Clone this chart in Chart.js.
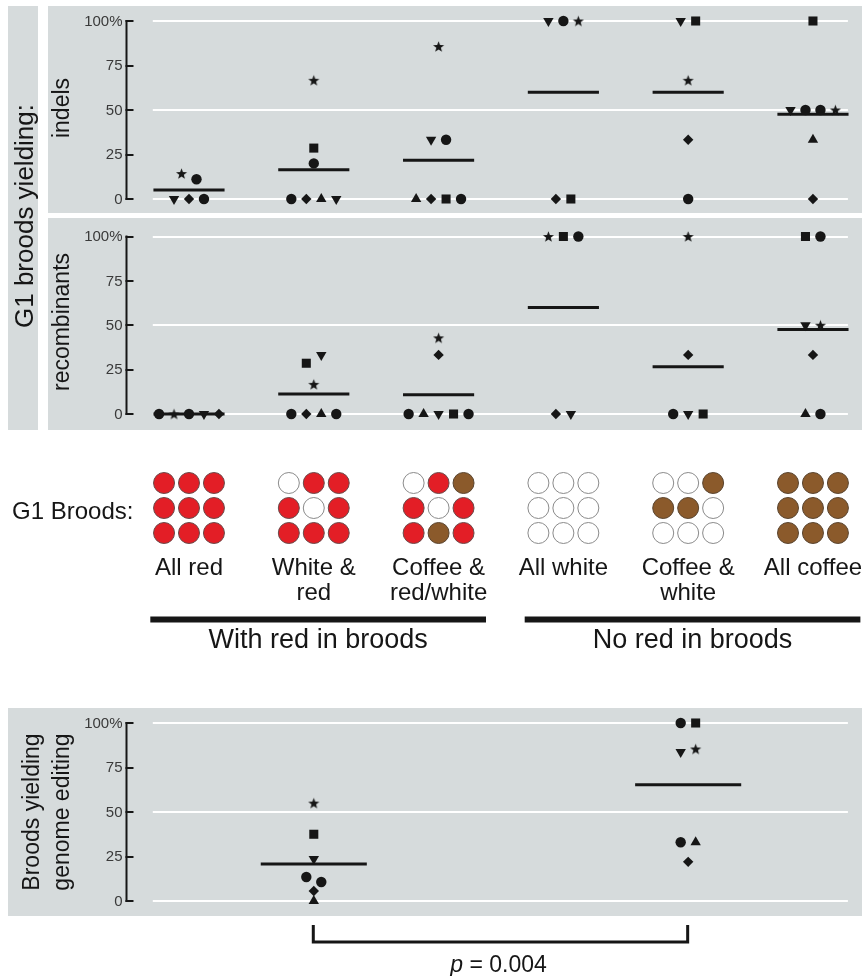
<!DOCTYPE html>
<html><head><meta charset="utf-8"><title>G1 broods yielding genome editing</title>
<script src="https://cdn.jsdelivr.net/npm/chart.js@4.4.1/dist/chart.umd.min.js"></script>
<style>
html,body{margin:0;padding:0;background:#fff;}
body{width:862px;height:976px;position:relative;overflow:hidden;font-family:'Liberation Sans',Arial,Helvetica,sans-serif;}
canvas{position:absolute;left:0;}
#strip{position:absolute;left:8px;top:6px;width:30px;height:424px;background:#d6dbdc;}
#stripLabel{position:absolute;left:24px;top:216px;transform:translate(-50%,-50%) rotate(-90deg);white-space:nowrap;font-size:26px;line-height:28px;color:#161616;}
</style></head><body>
<canvas id="cInd" width="862" height="215" style="top:0"></canvas>
<canvas id="cRec" width="862" height="215" style="top:215px"></canvas>
<canvas id="cGrid" width="862" height="250" style="top:430px"></canvas>
<canvas id="cEdit" width="862" height="296" style="top:680px"></canvas>
<div id="strip"></div><div id="stripLabel">G1 broods yielding:</div>
<script>
// ---------------- DATA ----------------
const categories = ["All red", "White & red", "Coffee & red/white", "All white", "Coffee & white", "All coffee"];
const categoryLabelLines = [["All red"], ["White &", "red"], ["Coffee &", "red/white"], ["All white"], ["Coffee &", "white"], ["All coffee"]];
const groupNames = ["With red in broods", "No red in broods"];
const groupSpans = [[0, 2], [3, 5]];

const yTicks = [0, 25, 50, 75, 100];
const yTickLabels = ["0", "25", "50", "75", "100%"];
const gridValues = [0, 50, 100];

// indels (% of G1 broods), marker symbol per point
const indelMarkers = [
  ["star", "circle", "triDown", "diamond", "circle"],
  ["star", "square", "circle", "circle", "diamond", "triUp", "triDown"],
  ["star", "triDown", "circle", "triUp", "diamond", "square", "circle"],
  ["triDown", "circle", "star", "diamond", "square"],
  ["triDown", "square", "star", "diamond", "circle"],
  ["square", "triDown", "circle", "circle", "star", "triUp", "diamond"]
];
const indelValues = [
  [14.3, 11.1, 0, 0, 0],
  [66.7, 28.6, 20, 0, 0, 0, 0],
  [85.7, 33.3, 33.3, 0, 0, 0, 0],
  [100, 100, 100, 0, 0],
  [100, 100, 66.7, 33.3, 0],
  [100, 50, 50, 50, 50, 33.3, 0]
];

// recombinants
const recombMarkers = [
  ["circle", "star", "circle", "triDown", "diamond"],
  ["square", "triDown", "star", "circle", "diamond", "triUp", "circle"],
  ["star", "diamond", "circle", "triUp", "triDown", "square", "circle"],
  ["star", "square", "circle", "diamond", "triDown"],
  ["star", "diamond", "circle", "triDown", "square"],
  ["square", "circle", "triDown", "star", "diamond", "triUp", "circle"]
];
const recombValues = [
  [0, 0, 0, 0, 0],
  [28.6, 33.3, 16.7, 0, 0, 0, 0],
  [42.9, 33.3, 0, 0, 0, 0, 0],
  [100, 100, 100, 0, 0],
  [100, 33.3, 0, 0, 0],
  [100, 100, 50, 50, 33.3, 0, 0]
];

// broods yielding genome editing
const editGroups = ["With red in broods", "No red in broods"];
const editMarkers = [
  ["star", "square", "triDown", "circle", "circle", "diamond", "triUp"],
  ["circle", "square", "triDown", "star", "circle", "triUp", "diamond"]
];
const editValues = [
  [55, 37.5, 23.6, 13.5, 10.7, 5.6, 0],
  [100, 100, 83.7, 85.4, 33, 33, 22]
];
const pValueText = "0.004";

// G1 brood eye colour composition (R = red, W = white, C = coffee), rows top to bottom
const broodGrids = [
  ["RRR", "RRR", "RRR"],
  ["WRR", "RWR", "RRR"],
  ["WRC", "RWR", "RCR"],
  ["WWW", "WWW", "WWW"],
  ["WWC", "CCW", "WWW"],
  ["CCC", "CCC", "CCC"]
];

// ---------------- STYLE / LAYOUT ----------------
const FONT = "'Liberation Sans', Arial, Helvetica, sans-serif";
const INK = '#161616';
const PANEL_GRAY = '#d6dbdc';
const X_MIN = -0.5, X_MAX = 5.3;
const PAD_L = 126.6, PAD_R = 862 - 850.4;
const JITTER = 0.12, GROUP_GAP = 5;
const EDIT_SLOTS = [1, 4];
const EYE_COLORS = { R: '#e31e26', W: '#ffffff', C: '#8b5a2b' };
const EYE_BORDERS = { R: '#6a4a4a', W: '#8a8a8a', C: '#5a4530' };

Chart.defaults.font.family = FONT;

function makeStar() {
  const c = document.createElement('canvas');
  c.width = 13; c.height = 13;
  const g = c.getContext('2d');
  g.fillStyle = INK;
  g.beginPath();
  for (let i = 0; i < 10; i++) {
    const r = i % 2 ? 2.4 : 5.8;
    const a = -Math.PI / 2 + i * Math.PI / 5;
    g.lineTo(6.5 + r * Math.cos(a), 7 + r * Math.sin(a));
  }
  g.closePath(); g.fill();
  return c;
}
const STAR_IMG = makeStar();
const MARKERS = {
  circle: { style: 'circle', r: 5.2, rot: 0 },
  square: { style: 'rect', r: 6.4, rot: 0 },
  diamond: { style: 'rectRot', r: 5.2, rot: 0 },
  triUp: { style: 'triangle', r: 6, rot: 0 },
  triDown: { style: 'triangle', r: 6, rot: 180 },
  star: { style: STAR_IMG, r: 6, rot: 0 }
};

// spread points that sit at (nearly) the same height side by side
function jitter(values, center) {
  const idx = values.map((v, i) => i).sort((a, b) => values[a] - values[b] || a - b);
  const groups = [];
  let cur = [idx[0]];
  for (let k = 1; k < idx.length; k++) {
    if (values[idx[k]] - values[idx[k - 1]] < GROUP_GAP) cur.push(idx[k]);
    else { groups.push(cur); cur = [idx[k]]; }
  }
  groups.push(cur);
  const xs = new Array(values.length);
  groups.forEach(g => {
    g.sort((a, b) => a - b);
    g.forEach((i, j) => { xs[i] = center + (j - (g.length - 1) / 2) * JITTER; });
  });
  return xs;
}

function buildDatasets(markerLists, valueLists, slots, halfWidth) {
  const pts = [], styles = [], radii = [], rots = [];
  const ds = [];
  valueLists.forEach((vals, c) => {
    const xs = jitter(vals, slots[c]);
    vals.forEach((v, i) => {
      const m = MARKERS[markerLists[c][i]];
      pts.push({ x: xs[i], y: v }); styles.push(m.style); radii.push(m.r); rots.push(m.rot);
    });
    const mean = vals.reduce((a, b) => a + b, 0) / vals.length;
    ds.push({
      type: 'line', showLine: true,
      data: [{ x: slots[c] - halfWidth, y: mean }, { x: slots[c] + halfWidth, y: mean }],
      borderColor: INK, borderWidth: 3, pointRadius: 0, fill: false, order: 1, clip: false
    });
  });
  ds.push({
    type: 'scatter', data: pts, order: 0, clip: false,
    pointStyle: ctx => styles[ctx.dataIndex],
    pointRadius: ctx => radii[ctx.dataIndex],
    pointRotation: ctx => rots[ctx.dataIndex],
    backgroundColor: INK, borderColor: INK, borderWidth: 0
  });
  return ds;
}

function rotatedText(ctx, text, x, y, size) {
  ctx.save();
  ctx.translate(x, y); ctx.rotate(-Math.PI / 2);
  ctx.font = size + 'px ' + FONT; ctx.fillStyle = INK;
  ctx.textAlign = 'center'; ctx.textBaseline = 'middle';
  ctx.fillText(text, 0, 0);
  ctx.restore();
}

const valuePanel = {
  id: 'valuePanel',
  beforeDraw(chart, a, o) {
    const ctx = chart.ctx;
    ctx.save(); ctx.fillStyle = PANEL_GRAY;
    ctx.fillRect(o.bg[0], o.bg[1], o.bg[2], o.bg[3]);
    ctx.restore();
  },
  beforeDatasetsDraw(chart, a, o) {
    const { ctx, scales: { x, y } } = chart;
    ctx.save();
    ctx.strokeStyle = '#ffffff'; ctx.lineWidth = 2;
    gridValues.forEach(v => {
      const py = Math.round(y.getPixelForValue(v));
      ctx.beginPath(); ctx.moveTo(x.getPixelForValue(-0.29), py); ctx.lineTo(x.getPixelForValue(5.28), py); ctx.stroke();
    });
    const ax = Math.round(x.getPixelForValue(X_MIN)) - 0.5;
    ctx.strokeStyle = INK; ctx.lineWidth = 2;
    ctx.beginPath(); ctx.moveTo(ax, y.getPixelForValue(100) - 1); ctx.lineTo(ax, y.getPixelForValue(0) + 1); ctx.stroke();
    yTicks.forEach(v => {
      const py = Math.round(y.getPixelForValue(v));
      ctx.beginPath(); ctx.moveTo(ax - 1, py); ctx.lineTo(ax + 7, py); ctx.stroke();
    });
    ctx.fillStyle = '#3a3a3a'; ctx.font = '15px ' + FONT;
    ctx.textAlign = 'right'; ctx.textBaseline = 'middle';
    yTicks.forEach((v, i) => ctx.fillText(yTickLabels[i], ax - 4, y.getPixelForValue(v) + 0.5));
    ctx.restore();
    o.title.forEach(t => rotatedText(ctx, t[0], t[1], t[2], o.titleSize));
  },
  afterDraw(chart, a, o) {
    if (!o.bracket) return;
    const { ctx, scales: { x } } = chart;
    const x1 = x.getPixelForValue(EDIT_SLOTS[0]) - 0.5, x2 = x.getPixelForValue(EDIT_SLOTS[1]) - 0.5;
    ctx.save();
    ctx.strokeStyle = INK; ctx.lineWidth = 3; ctx.lineJoin = 'miter';
    ctx.beginPath(); ctx.moveTo(x1, 245); ctx.lineTo(x1, 262); ctx.lineTo(x2, 262); ctx.lineTo(x2, 245); ctx.stroke();
    const cx = (x1 + x2) / 2 - 2, ty = 286;
    ctx.fillStyle = INK; ctx.textBaseline = 'middle'; ctx.textAlign = 'left';
    ctx.font = 'italic 23px ' + FONT; const wp = ctx.measureText('p').width;
    ctx.font = '23px ' + FONT; const rest = ' = ' + pValueText; const wr = ctx.measureText(rest).width;
    const sx = cx - (wp + wr) / 2;
    ctx.font = 'italic 23px ' + FONT; ctx.fillText('p', sx, ty);
    ctx.font = '23px ' + FONT; ctx.fillText(rest, sx + wp, ty);
    ctx.restore();
  }
};

function valueChart(id, datasets, padTop, padBottom, decor) {
  return new Chart(document.getElementById(id), {
    type: 'scatter',
    data: { datasets },
    options: {
      responsive: false, animation: false, events: [],
      layout: { padding: { left: PAD_L, right: PAD_R, top: padTop, bottom: padBottom } },
      plugins: { legend: { display: false }, tooltip: { enabled: false }, valuePanel: decor },
      scales: {
        x: { type: 'linear', min: X_MIN, max: X_MAX, display: false },
        y: { type: 'linear', min: 0, max: 100, display: false }
      }
    },
    plugins: [valuePanel]
  });
}

const catSlots = categories.map((c, i) => i);

valueChart('cInd', buildDatasets(indelMarkers, indelValues, catSlots, 0.285), 21, 16,
  { bg: [48, 6, 814, 207], title: [["indels", 63, 108]], titleSize: 23 });
valueChart('cRec', buildDatasets(recombMarkers, recombValues, catSlots, 0.285), 21.5, 16,
  { bg: [48, 3, 814, 212], title: [["recombinants", 63, 107]], titleSize: 23 });
valueChart('cEdit', buildDatasets(editMarkers, editValues, EDIT_SLOTS, 0.425), 43, 75,
  { bg: [8, 28, 854, 208], title: [["Broods yielding", 33, 132], ["genome editing", 63, 132]], titleSize: 23, bracket: true });

// ---------------- G1 brood composition grids ----------------
const gridPts = [], gridFill = [], gridBorder = [];
broodGrids.forEach((rows, c) => {
  rows.forEach((row, r) => {
    row.split('').forEach((code, k) => {
      gridPts.push({ x: c + (k - 1) * 0.2, y: r });
      gridFill.push(EYE_COLORS[code]); gridBorder.push(EYE_BORDERS[code]);
    });
  });
});

const gridDecor = {
  id: 'gridDecor',
  afterDraw(chart) {
    const { ctx, scales: { x } } = chart;
    ctx.save();
    ctx.fillStyle = INK; ctx.textBaseline = 'middle';
    ctx.font = '24px ' + FONT; ctx.textAlign = 'left';
    ctx.fillText('G1 Broods:', 12, 82);
    ctx.textAlign = 'center';
    categoryLabelLines.forEach((lines, c) => {
      lines.forEach((ln, j) => ctx.fillText(ln, x.getPixelForValue(c), 138 + j * 25));
    });
    groupSpans.forEach((sp, g) => {
      const xs = x.getPixelForValue(sp[0] - 0.31), xe = x.getPixelForValue(sp[1] + 0.38);
      ctx.fillRect(xs, 186.5, xe - xs, 6);
      ctx.font = '27px ' + FONT;
      ctx.fillText(groupNames[g], (xs + xe) / 2, 211);
    });
    ctx.restore();
  }
};

new Chart(document.getElementById('cGrid'), {
  type: 'scatter',
  data: { datasets: [{
    data: gridPts, clip: false,
    pointRadius: 10.5, pointStyle: 'circle',
    backgroundColor: ctx => gridFill[ctx.dataIndex],
    borderColor: ctx => gridBorder[ctx.dataIndex],
    borderWidth: 1
  }] },
  options: {
    responsive: false, animation: false, events: [],
    layout: { padding: { left: PAD_L, right: PAD_R, top: 53, bottom: 147 } },
    plugins: { legend: { display: false }, tooltip: { enabled: false } },
    scales: {
      x: { type: 'linear', min: X_MIN, max: X_MAX, display: false },
      y: { type: 'linear', min: 0, max: 2, reverse: true, display: false }
    }
  },
  plugins: [gridDecor]
});
</script>
</body></html>
